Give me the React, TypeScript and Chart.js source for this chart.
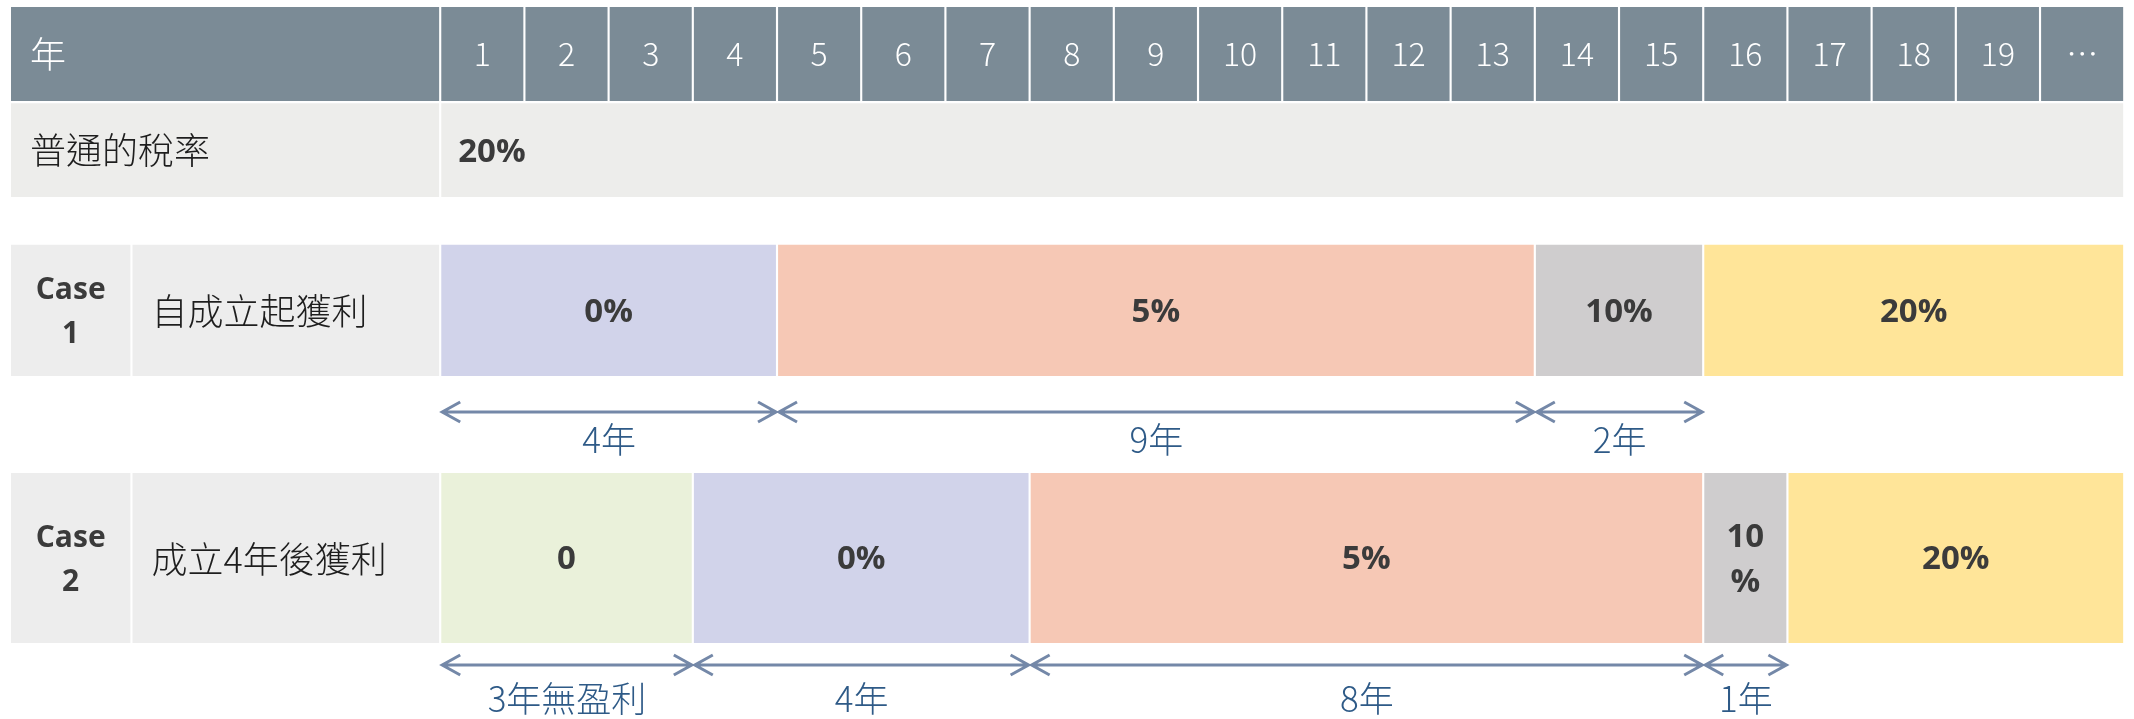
import React, { useEffect, useRef } from 'react';
import { Chart, registerables } from 'chart.js';

Chart.register(...registerables);

// ---------- data ----------
const YEAR_LABELS = ['1', '2', '3', '4', '5', '6', '7', '8', '9', '10', '11', '12', '13', '14', '15', '16', '17', '18', '19', '…'];
const HEADER_LABEL = '年';
const NORMAL_LABEL = '普通的稅率';
const NORMAL_RATE = '20%';
const CASE_NAMES = ['Case\n1', 'Case\n2'];
const CASE_DESCS = ['自成立起獲利', '成立4年後獲利'];

const CASE1_SPANS = [4, 9, 2, 5];
const CASE1_RATES = ['0%', '5%', '10%', '20%'];
const CASE2_SPANS = [3, 4, 8, 1, 4];
const CASE2_RATES = ['0', '0%', '5%', '10\n%', '20%'];

const CASE1_ARROW_SPANS = [4, 9, 2];
const CASE1_ARROW_LABELS = ['4年', '9年', '2年'];
const CASE2_ARROW_SPANS = [3, 4, 8, 1];
const CASE2_ARROW_LABELS = ['3年無盈利', '4年', '8年', '1年'];

// ---------- styles ----------
const HEADER_COLOR = '#7B8B96';
const ROW_BG = '#EDEDEB';
const CASE_BG = '#EDEDED';
const CASE1_COLORS = ['#D1D3EA', '#F6C8B5', '#CFCDCE', '#FFE599'];
const CASE2_COLORS = ['#EAF1DA', '#D1D3EA', '#F6C8B5', '#CFCDCE', '#FFE599'];
const TEXT_DARK = '#3B3B3B';
const ARROW_COLOR = '#7488A8';
const ARROW_TEXT = '#2E5A87';

// ---------- layout (axis units) ----------
const X_MIN = -5.228;
const X_MAX = 20.116;
const LABEL_START = -5.11;
const CASE_SPLIT = -3.667;
const ROW_HEADER = { y: 54, h: 96.3 };
const ROW_NORMAL = { y: 150.15, h: 95.9 };
const ROW_CASE1 = { y: 310.35, h: 133.5 };
const ROW_CASE2 = { y: 558, h: 172.2 };
const ARROW1_Y = 412;
const ARROW1_TEXT_Y = 440;
const ARROW2_Y = 665;
const ARROW2_TEXT_Y = 699;

const CJK = "'Noto Sans CJK TC', 'Noto Sans CJK SC', sans-serif";
const BOLD = "'Liberation Sans Narrow', 'Open Sans', sans-serif";

function cumulative(spans: number[]): [number, number][] {
  const out: [number, number][] = [];
  let s = 0;
  for (const w of spans) {
    out.push([s, s + w]);
    s += w;
  }
  return out;
}

export default function App() {
  const ref = useRef<HTMLCanvasElement | null>(null);

  useEffect(() => {
    document.body.style.margin = '0';
    const canvas = ref.current!;
    const c1 = cumulative(CASE1_SPANS);
    const c2 = cumulative(CASE2_SPANS);
    const a1 = cumulative(CASE1_ARROW_SPANS);
    const a2 = cumulative(CASE2_ARROW_SPANS);

    const common = {
      grouped: false,
      borderColor: '#ffffff',
      borderWidth: 1.4,
      borderSkipped: false as const,
    };

    const datasets: any[] = [
      {
        ...common,
        label: 'header',
        barThickness: ROW_HEADER.h,
        data: [
          { x: [LABEL_START, 0], y: ROW_HEADER.y },
          ...YEAR_LABELS.map((_, i) => ({ x: [i, i + 1], y: ROW_HEADER.y })),
        ],
        backgroundColor: HEADER_COLOR,
      },
      {
        ...common,
        label: 'normal',
        barThickness: ROW_NORMAL.h,
        data: [
          { x: [LABEL_START, 0], y: ROW_NORMAL.y },
          { x: [0, YEAR_LABELS.length], y: ROW_NORMAL.y },
        ],
        backgroundColor: ROW_BG,
      },
      {
        ...common,
        label: 'case1',
        barThickness: ROW_CASE1.h,
        data: [
          { x: [LABEL_START, CASE_SPLIT], y: ROW_CASE1.y },
          { x: [CASE_SPLIT, 0], y: ROW_CASE1.y },
          ...c1.map((r) => ({ x: r, y: ROW_CASE1.y })),
        ],
        backgroundColor: [CASE_BG, CASE_BG, ...CASE1_COLORS],
      },
      {
        ...common,
        label: 'case2',
        barThickness: ROW_CASE2.h,
        data: [
          { x: [LABEL_START, CASE_SPLIT], y: ROW_CASE2.y },
          { x: [CASE_SPLIT, 0], y: ROW_CASE2.y },
          ...c2.map((r) => ({ x: r, y: ROW_CASE2.y })),
        ],
        backgroundColor: [CASE_BG, CASE_BG, ...CASE2_COLORS],
      },
    ];

    const textPlugin = {
      id: 'texts',
      afterDatasetsDraw(chart: any) {
        const ctx = chart.ctx as CanvasRenderingContext2D;
        const xs = chart.scales.x;
        const ys = chart.scales.y;
        const px = (v: number) => xs.getPixelForValue(v);
        const py = (v: number) => ys.getPixelForValue(v);
        ctx.save();
        ctx.textBaseline = 'middle';

        const multi = (text: string, x: number, y: number, lh: number) => {
          const lines = text.split('\n');
          const n = lines.length;
          lines.forEach((l, i) => ctx.fillText(l, x, y + (i - (n - 1) / 2) * lh));
        };

        // header
        ctx.fillStyle = '#ffffff';
        ctx.font = `300 36px ${CJK}`;
        ctx.textAlign = 'left';
        ctx.fillText(HEADER_LABEL, px(LABEL_START) + 20, py(ROW_HEADER.y));
        ctx.font = `300 32px ${CJK}`;
        ctx.textAlign = 'center';
        YEAR_LABELS.forEach((l, i) => ctx.fillText(l, px(i + 0.5), py(ROW_HEADER.y)));

        // normal rate row
        ctx.fillStyle = '#1E1E1E';
        ctx.textAlign = 'left';
        ctx.font = `300 36px ${CJK}`;
        ctx.fillText(NORMAL_LABEL, px(LABEL_START) + 20, py(ROW_NORMAL.y));
        ctx.fillStyle = TEXT_DARK;
        ctx.font = `bold 33px ${BOLD}`;
        ctx.fillText(NORMAL_RATE, px(0) + 18, py(ROW_NORMAL.y) + 2);

        // cases
        const rows = [
          { row: ROW_CASE1, segs: c1, rates: CASE1_RATES },
          { row: ROW_CASE2, segs: c2, rates: CASE2_RATES },
        ];
        rows.forEach((r, k) => {
          const yc = py(r.row.y);
          ctx.fillStyle = TEXT_DARK;
          ctx.font = `bold 30px ${BOLD}`;
          ctx.textAlign = 'center';
          multi(CASE_NAMES[k], px((LABEL_START + CASE_SPLIT) / 2), yc + 2, 44);
          ctx.fillStyle = '#1E1E1E';
          ctx.font = `300 36px ${CJK}`;
          ctx.textAlign = 'left';
          ctx.fillText(CASE_DESCS[k], px(CASE_SPLIT) + 20, yc + 1);
          ctx.fillStyle = TEXT_DARK;
          ctx.font = `bold 33px ${BOLD}`;
          ctx.textAlign = 'center';
          r.segs.forEach((s, i) => multi(r.rates[i], px((s[0] + s[1]) / 2), yc + 2, 45));
        });

        // arrows
        const arrows = [
          { segs: a1, labels: CASE1_ARROW_LABELS, y: ARROW1_Y, ty: ARROW1_TEXT_Y },
          { segs: a2, labels: CASE2_ARROW_LABELS, y: ARROW2_Y, ty: ARROW2_TEXT_Y },
        ];
        ctx.strokeStyle = ARROW_COLOR;
        ctx.lineWidth = 3;
        arrows.forEach((a) => {
          const y = py(a.y);
          a.segs.forEach((s, i) => {
            const x0 = px(s[0]) + 2;
            const x1 = px(s[1]) - 1;
            ctx.beginPath();
            ctx.moveTo(x0, y);
            ctx.lineTo(x1, y);
            ctx.moveTo(x0 + 18, y - 10);
            ctx.lineTo(x0, y);
            ctx.lineTo(x0 + 18, y + 10);
            ctx.moveTo(x1 - 18, y - 10);
            ctx.lineTo(x1, y);
            ctx.lineTo(x1 - 18, y + 10);
            ctx.stroke();
            ctx.fillStyle = ARROW_TEXT;
            ctx.font = `300 35px ${CJK}`;
            ctx.textAlign = 'center';
            ctx.fillText(a.labels[i], (x0 + x1) / 2, py(a.ty));
          });
        });
        ctx.restore();
      },
    };

    const chart = new Chart(canvas, {
      type: 'bar',
      data: { datasets },
      options: {
        indexAxis: 'y',
        animation: false,
        responsive: false,
        devicePixelRatio: 1,
        layout: { padding: 0 },
        plugins: { legend: { display: false }, tooltip: { enabled: false } },
        scales: {
          x: { type: 'linear', min: X_MIN, max: X_MAX, offset: false, display: false },
          y: { type: 'linear', min: 0, max: 719, reverse: true, offset: false, grace: 0, display: false },
        },
      },
      plugins: [textPlugin],
    });
    return () => chart.destroy();
  }, []);

  return (
    <div style={{ position: 'fixed', left: 0, top: 0, width: 2134, height: 719, background: '#ffffff' }}>
      <canvas ref={ref} width={2134} height={719} style={{ display: 'block' }} />
    </div>
  );
}
